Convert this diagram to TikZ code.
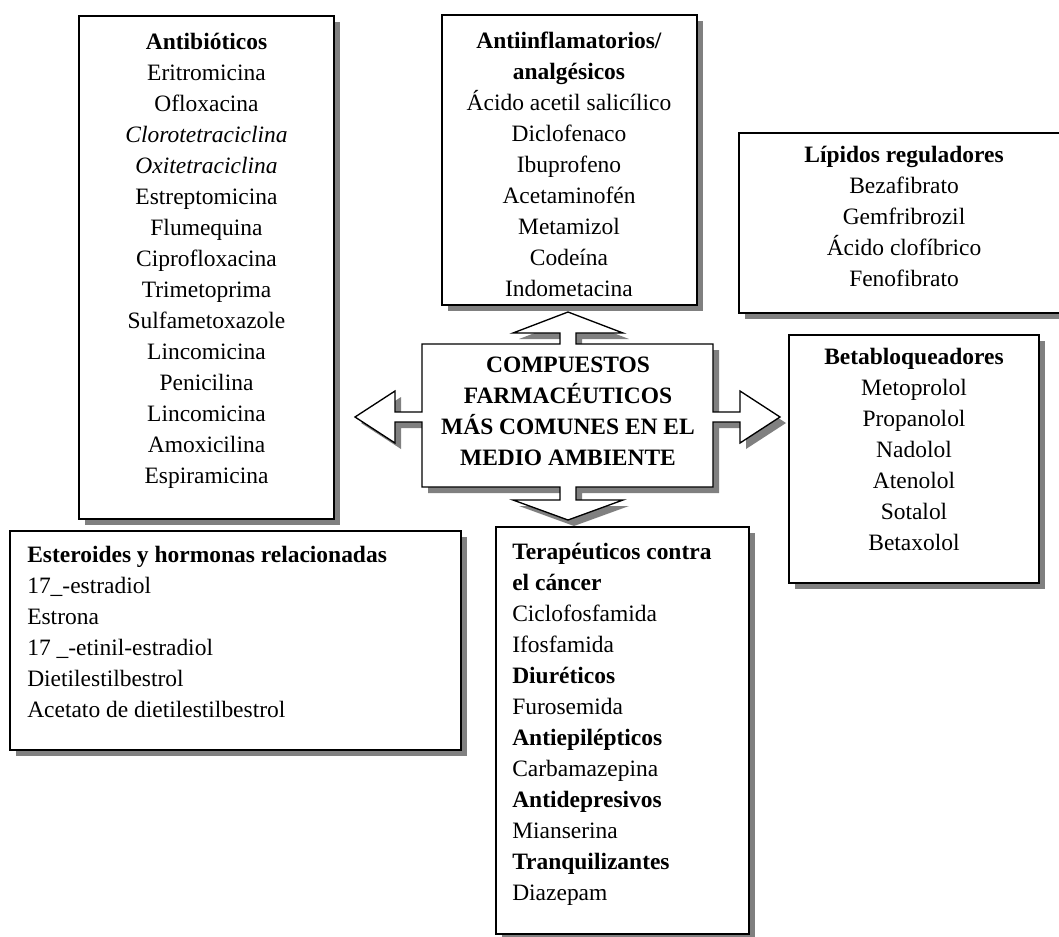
\documentclass[tikz,border=0pt]{standalone}
\usepackage{fontspec}
\setmainfont{Liberation Serif}
\usetikzlibrary{shadows}
\begin{document}
\begin{tikzpicture}[x=0.75pt, y=-0.75pt,
    frame/.style={draw=black, line width=1pt, fill=white,
      drop shadow={shadow xshift=4.5pt, shadow yshift=-4.5pt, fill=black!50, opacity=1}},
    listtext/.style={inner sep=0pt, font=\fontsize{17.6pt}{23.25pt}\selectfont},
    centretext/.style={inner sep=0pt, align=center, font=\bfseries\fontsize{17.6pt}{23.25pt}\selectfont}]
    \useasboundingbox (0,0) rectangle (1059,936);

    % Boxes round each group of compounds
    \draw[frame] (79,16) rectangle (334,519);
    \draw[frame] (442,15) rectangle (697,305);
    \draw[frame] (739,133) rectangle (1070,313);
    \draw[frame] (789,335) rectangle (1039,583);
    \draw[frame] (10,531) rectangle (461,750);
    \draw[frame] (496,527) rectangle (749,934);

    % Central box with its four block arrows
    \draw[frame] (422,344) -- (560,344) -- (560,333) -- (513,333) -- (568,312)
        -- (623,333) -- (576,333) -- (576,344) -- (713,344) -- (713,412)
        -- (740,412) -- (740,391) -- (780,417) -- (740,443) -- (740,422)
        -- (713,422) -- (713,487) -- (576,487) -- (576,500) -- (623,500)
        -- (568,520) -- (513,500) -- (560,500) -- (560,487) -- (422,487)
        -- (422,422) -- (395,422) -- (395,443) -- (355,417) -- (395,391)
        -- (395,412) -- (422,412) -- cycle;

    \node[centretext, anchor=north] (centre) at (568,351) {\strut COMPUESTOS\\FARMACÉUTICOS\\MÁS COMUNES EN EL\\MEDIO AMBIENTE};

    % Texts of the groups
    \node[listtext, align=center, anchor=north] (antib) at (206.5,28) {\strut\textbf{Antibióticos}\\Eritromicina\\Ofloxacina\\\textit{Clorotetraciclina}\\\textit{Oxitetraciclina}\\Estreptomicina\\Flumequina\\Ciprofloxacina\\Trimetoprima\\Sulfametoxazole\\Lincomicina\\Penicilina\\Lincomicina\\Amoxicilina\\Espiramicina};
    \node[listtext, align=center, anchor=north] (antiinf) at (569,27) {\strut\textbf{Antiinflamatorios/}\\\textbf{analgésicos}\\Ácido acetil salicílico\\Diclofenaco\\Ibuprofeno\\Acetaminofén\\Metamizol\\Codeína\\Indometacina};
    \node[listtext, align=center, anchor=north] (lipid) at (904,141) {\strut\textbf{Lípidos reguladores}\\Bezafibrato\\Gemfribrozil\\Ácido clofíbrico\\Fenofibrato};
    \node[listtext, align=center, anchor=north] (beta) at (914,343) {\strut\textbf{Betabloqueadores}\\Metoprolol\\Propanolol\\Nadolol\\Atenolol\\Sotalol\\Betaxolol};
    \node[listtext, align=left, anchor=north west] (steroid) at (27,541) {\strut\textbf{Esteroides y hormonas relacionadas}\\17\_-estradiol\\Estrona\\17 \_-etinil-estradiol\\Dietilestilbestrol\\Acetato de dietilestilbestrol};
    \node[listtext, align=left, anchor=north west] (therap) at (512,538) {\strut\textbf{Terapéuticos contra}\\\textbf{el cáncer}\\Ciclofosfamida\\Ifosfamida\\\textbf{Diuréticos}\\Furosemida\\\textbf{Antiepilépticos}\\Carbamazepina\\\textbf{Antidepresivos}\\Mianserina\\\textbf{Tranquilizantes}\\Diazepam};
\end{tikzpicture}
\end{document}
